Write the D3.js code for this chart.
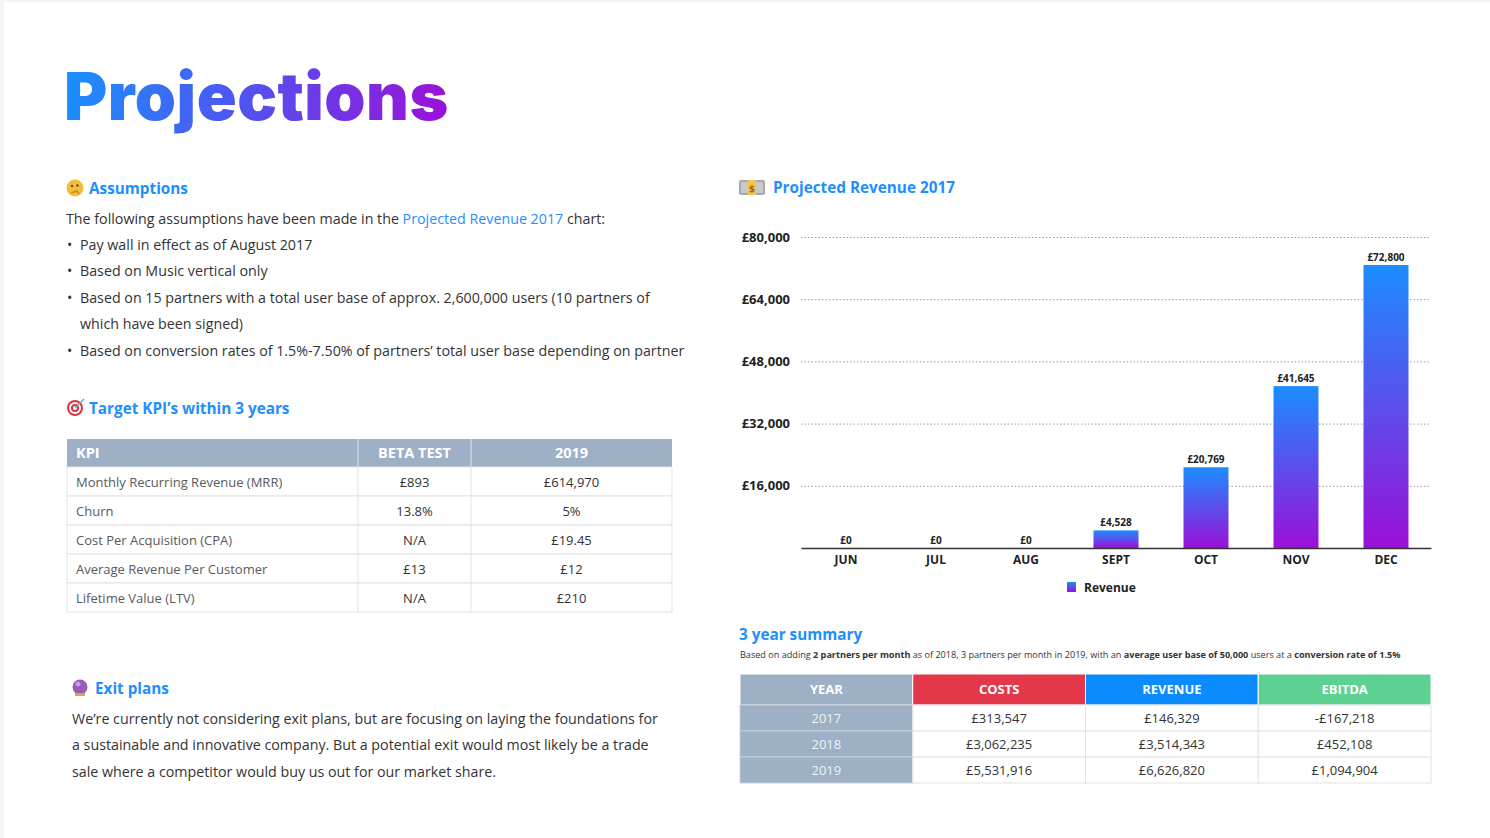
<!DOCTYPE html>
<html>
<head>
<meta charset="utf-8">
<script src="https://cdn.jsdelivr.net/npm/d3@7"></script>
<style>
  html, body { margin: 0; padding: 0; background: #f4f4f4; }
  svg { display: block; }
  .body-text { font-family: "Open Sans", sans-serif; font-size: 14.25px; fill: #333; }
  .heading { font-family: "Open Sans", sans-serif; font-size: 15.3px; font-weight: 700; fill: #1e8fff; }
</style>
</head>
<body>
<svg id="page" width="1490" height="838"></svg>
<script>
// chart data
var months = ["JUN", "JUL", "AUG", "SEPT", "OCT", "NOV", "DEC"];
var revenue = [0, 0, 0, 4528, 20769, 41645, 72800];
var yTicks = [16000, 32000, 48000, 64000, 80000];

// KPI table
var kpiHeaders = ["KPI", "BETA TEST", "2019"];
var kpiNames = ["Monthly Recurring Revenue (MRR)", "Churn", "Cost Per Acquisition (CPA)", "Average Revenue Per Customer", "Lifetime Value (LTV)"];
var kpiBeta = ["£893", "13.8%", "N/A", "£13", "N/A"];
var kpi2019 = ["£614,970", "5%", "£19.45", "£12", "£210"];

// summary table
var summaryHeaders = ["YEAR", "COSTS", "REVENUE", "EBITDA"];
var summaryYears = ["2017", "2018", "2019"];
var summaryCosts = ["£313,547", "£3,062,235", "£5,531,916"];
var summaryRevenue = ["£146,329", "£3,514,343", "£6,626,820"];
var summaryEbitda = ["-£167,218", "£452,108", "£1,094,904"];

// text blocks
var assumptionBullets = [
  ["Pay wall in effect as of August 2017"],
  ["Based on Music vertical only"],
  ["Based on 15 partners with a total user base of approx. 2,600,000 users (10 partners of", "which have been signed)"],
  ["Based on conversion rates of 1.5%-7.50% of partners\u2019 total user base depending on partner"]
];
var exitLines = [
  "We\u2019re currently not considering exit plans, but are focusing on laying the foundations for",
  "a sustainable and innovative company. But a potential exit would most likely be a trade",
  "sale where a competitor would buy us out for our market share."
];
var summaryNote = [
  ["Based on adding ", false], ["2 partners per month", true], [" as of 2018, 3 partners per month in 2019, with an ", false],
  ["average user base of 50,000", true], [" users at a ", false], ["conversion rate of 1.5%", true]
];

var svg = d3.select("#page");
svg.append("rect").attr("x", 4).attr("y", 2).attr("width", 1486).attr("height", 836).attr("fill", "#fff");

var defs = svg.append("defs");
var tg = defs.append("linearGradient").attr("id", "titleGrad")
    .attr("gradientUnits", "userSpaceOnUse")
    .attr("x1", 66).attr("y1", 70).attr("x2", 447).attr("y2", 130);
tg.append("stop").attr("offset", 0).attr("stop-color", "#1a90ff");
tg.append("stop").attr("offset", 0.45).attr("stop-color", "#4f55f2");
tg.append("stop").attr("offset", 1).attr("stop-color", "#9c0fd6");

var bg = defs.append("linearGradient").attr("id", "barGrad")
    .attr("x1", 0).attr("y1", 0).attr("x2", 0).attr("y2", 1);
bg.append("stop").attr("offset", 0).attr("stop-color", "#1c8dff");
bg.append("stop").attr("offset", 1).attr("stop-color", "#9b0fd7");

// title
svg.append("text")
    .attr("x", 64).attr("y", 120)
    .style("font-family", "Inter, Lato, sans-serif")
    .style("font-weight", 900)
    .style("font-size", "66px")
    .style("letter-spacing", "0.5px")
    .attr("fill", "url(#titleGrad)")
    .text("Projections");

function heading(x, y, txt) {
  svg.append("text").attr("class", "heading").attr("x", x).attr("y", y).text(txt);
}

// little emoji-ish icons
function iconThink(cx, cy) {
  var g = svg.append("g");
  g.append("circle").attr("cx", cx).attr("cy", cy).attr("r", 8.5).attr("fill", "#f2bd3a");
  g.append("circle").attr("cx", cx - 3).attr("cy", cy - 2).attr("r", 1.2).attr("fill", "#6b4a12");
  g.append("circle").attr("cx", cx + 2.5).attr("cy", cy - 2.5).attr("r", 1.2).attr("fill", "#6b4a12");
  g.append("path").attr("d", "M" + (cx - 4) + "," + (cy + 5) + " l6,-2 l2,3").attr("stroke", "#c98f1e").attr("stroke-width", 1.5).attr("fill", "none");
}
function iconMoney(x, y) {
  var g = svg.append("g");
  g.append("rect").attr("x", x).attr("y", y).attr("width", 26).attr("height", 15).attr("rx", 2).attr("fill", "#a9a9a9");
  g.append("rect").attr("x", x + 2).attr("y", y + 2).attr("width", 22).attr("height", 11).attr("fill", "#c9c9c9");
  g.append("rect").attr("x", x + 9).attr("y", y).attr("width", 8).attr("height", 15).attr("fill", "#f2c14e");
  g.append("text").attr("x", x + 13).attr("y", y + 11.5).attr("text-anchor", "middle")
    .style("font-family", "DejaVu Sans").style("font-size", "9px").style("font-weight", 700).attr("fill", "#9a6a10").text("$");
}
function iconTarget(cx, cy) {
  var g = svg.append("g");
  [8, 6, 4, 2].forEach(function(r, i) {
    g.append("circle").attr("cx", cx).attr("cy", cy).attr("r", r).attr("fill", i % 2 ? "#fff" : "#d8333f");
  });
  g.append("line").attr("x1", cx).attr("y1", cy).attr("x2", cx + 9).attr("y2", cy - 9).attr("stroke", "#6aa0c0").attr("stroke-width", 1.5);
}
function iconBall(cx, cy) {
  var g = svg.append("g");
  g.append("circle").attr("cx", cx).attr("cy", cy - 1).attr("r", 7.5).attr("fill", "#9a5bb8");
  g.append("circle").attr("cx", cx - 2).attr("cy", cy - 4).attr("r", 2.5).attr("fill", "#c99ae0");
  g.append("rect").attr("x", cx - 5).attr("y", cy + 5).attr("width", 10).attr("height", 3).attr("fill", "#e8a33a");
}

// ---- Assumptions ----
iconThink(75, 188);
heading(89, 194, "Assumptions");

var intro = svg.append("text").attr("class", "body-text").attr("x", 66).attr("y", 224);
intro.append("tspan").text("The following assumptions have been made in the ");
intro.append("tspan").attr("fill", "#1e8fff").text("Projected Revenue 2017");
intro.append("tspan").text(" chart:");

var lineY = 250;
assumptionBullets.forEach(function(lines) {
  svg.append("text").attr("class", "body-text").attr("x", 67).attr("y", lineY).text("\u2022");
  lines.forEach(function(l) {
    svg.append("text").attr("class", "body-text").attr("x", 80).attr("y", lineY).text(l);
    lineY += 26.4;
  });
});

// ---- KPI table ----
iconTarget(75, 408);
heading(89, 414, "Target KPI\u2019s within 3 years");

var kpiCols = [67, 358, 471, 672];
var kpiTop = 439, kpiHeadH = 28, kpiRowH = 29;
var kpi = svg.append("g").style("font-family", "Open Sans, sans-serif");
kpi.append("rect").attr("x", kpiCols[0]).attr("y", kpiTop).attr("width", kpiCols[3] - kpiCols[0]).attr("height", kpiHeadH).attr("fill", "#9db0c5");
kpi.selectAll("text.kh").data(kpiHeaders).enter().append("text")
    .attr("x", function(d, i) { return i === 0 ? kpiCols[0] + 9 : (kpiCols[i] + kpiCols[i + 1]) / 2; })
    .attr("y", kpiTop + 19)
    .attr("text-anchor", function(d, i) { return i === 0 ? "start" : "middle"; })
    .style("font-size", "14.5px").style("font-weight", 700).attr("fill", "#fff")
    .text(function(d) { return d; });

var kpiRows = kpiNames.map(function(n, i) { return [n, kpiBeta[i], kpi2019[i]]; });
var rowG = kpi.selectAll("g.krow").data(kpiRows).enter().append("g")
    .attr("transform", function(d, i) { return "translate(0," + (kpiTop + kpiHeadH + i * kpiRowH) + ")"; });
rowG.append("rect").attr("x", kpiCols[0]).attr("width", kpiCols[3] - kpiCols[0]).attr("height", kpiRowH)
    .attr("fill", "#fff").attr("stroke", "#e3e3e3");
rowG.selectAll("text").data(function(d) { return d; }).enter().append("text")
    .attr("x", function(d, i) { return i === 0 ? kpiCols[0] + 9 : (kpiCols[i] + kpiCols[i + 1]) / 2; })
    .attr("y", 20)
    .attr("text-anchor", function(d, i) { return i === 0 ? "start" : "middle"; })
    .style("font-size", "13px")
    .attr("fill", function(d, i) { return i === 0 ? "#5a5a5a" : "#333"; })
    .text(function(d) { return d; });
[kpiCols[1], kpiCols[2]].forEach(function(x) {
  kpi.append("line").attr("x1", x).attr("x2", x).attr("y1", kpiTop).attr("y2", kpiTop + kpiHeadH + kpiRows.length * kpiRowH)
    .attr("stroke", "#e3e3e3");
});

// ---- Exit plans ----
iconBall(80, 688);
heading(95, 694, "Exit plans");
exitLines.forEach(function(l, i) {
  svg.append("text").attr("class", "body-text").attr("x", 72).attr("y", 724 + i * 26.4).text(l);
});

// ---- Revenue chart ----
iconMoney(739, 180);
heading(773, 193, "Projected Revenue 2017");

var x = d3.scaleBand().domain(months).range([801, 1431]).paddingInner(0.5).paddingOuter(0.25);
var y = d3.scaleLinear().domain([0, 80000]).range([548, 237]);
var fmt = function(d) { return "£" + d3.format(",")(d); };

var yAxis = svg.append("g").attr("transform", "translate(801,0)")
    .call(d3.axisLeft(y).tickValues(yTicks).tickSize(-630).tickPadding(11).tickFormat(fmt));
yAxis.select(".domain").remove();
yAxis.selectAll(".tick line").attr("stroke", "#9a9a9a").attr("stroke-dasharray", "1.5,2");
yAxis.selectAll(".tick text").style("font-family", "Open Sans, sans-serif").style("font-size", "13px")
    .style("font-weight", 700).attr("fill", "#222");

svg.selectAll("rect.bar").data(revenue).enter().append("rect")
    .attr("class", "bar")
    .attr("x", function(d, i) { return x(months[i]); })
    .attr("width", x.bandwidth())
    .attr("y", function(d) { return y(d); })
    .attr("height", function(d) { return y(0) - y(d); })
    .attr("fill", "url(#barGrad)");

svg.selectAll("text.val").data(revenue).enter().append("text")
    .attr("x", function(d, i) { return x(months[i]) + x.bandwidth() / 2; })
    .attr("y", function(d) { return y(d) - 4; })
    .attr("text-anchor", "middle")
    .style("font-family", "Open Sans, sans-serif").style("font-size", "10px").style("font-weight", 700)
    .attr("fill", "#222")
    .text(fmt);

var xAxis = svg.append("g").attr("transform", "translate(0,548)")
    .call(d3.axisBottom(x).tickSize(0).tickPadding(7));
xAxis.select(".domain").attr("stroke", "#333").attr("stroke-width", 1.5);
xAxis.selectAll(".tick text").style("font-family", "Open Sans, sans-serif").style("font-size", "12px")
    .style("font-weight", 700).attr("fill", "#222");

// legend
var legend = svg.append("g").attr("transform", "translate(1067,582)");
legend.append("rect").attr("width", 9).attr("height", 10).attr("fill", "url(#barGrad)");
legend.append("text").attr("x", 17).attr("y", 9.5)
    .style("font-family", "Open Sans, sans-serif").style("font-size", "12px").style("font-weight", 700)
    .attr("fill", "#222").text("Revenue");

// ---- 3 year summary ----
heading(739, 640, "3 year summary");
var note = svg.append("text").attr("x", 740).attr("y", 658)
    .style("font-family", "Open Sans, sans-serif").style("font-size", "9.1px").attr("fill", "#333");
note.selectAll("tspan").data(summaryNote).enter().append("tspan")
    .style("font-weight", function(d) { return d[1] ? 700 : 400; })
    .text(function(d) { return d[0]; });

var sx = d3.scaleBand().domain(summaryHeaders).range([740, 1431]);
var headColors = ["#9db0c5", "#e5374a", "#0a8cff", "#5dd191"];
var sTop = 674, sHeadH = 31, sRowH = 26;
var sum = svg.append("g").style("font-family", "Open Sans, sans-serif");
sum.selectAll("rect.sh").data(summaryHeaders).enter().append("rect")
    .attr("x", function(d) { return sx(d); }).attr("y", sTop)
    .attr("width", sx.bandwidth()).attr("height", sHeadH)
    .attr("fill", function(d, i) { return headColors[i]; })
    .attr("stroke", "#fff").attr("stroke-width", 1);
sum.selectAll("text.sh").data(summaryHeaders).enter().append("text")
    .attr("x", function(d) { return sx(d) + sx.bandwidth() / 2; }).attr("y", sTop + 20)
    .attr("text-anchor", "middle")
    .style("font-size", "13px").style("font-weight", 700).attr("fill", "#fff")
    .text(function(d) { return d; });

var sRows = summaryYears.map(function(yr, i) { return [yr, summaryCosts[i], summaryRevenue[i], summaryEbitda[i]]; });
var sRowG = sum.selectAll("g.srow").data(sRows).enter().append("g")
    .attr("transform", function(d, i) { return "translate(0," + (sTop + sHeadH + i * sRowH) + ")"; });
sRowG.selectAll("rect").data(function(d) { return d; }).enter().append("rect")
    .attr("x", function(d, i) { return sx(summaryHeaders[i]); })
    .attr("width", sx.bandwidth()).attr("height", sRowH)
    .attr("fill", function(d, i) { return i === 0 ? "#9db0c5" : "#fff"; })
    .attr("stroke", function(d, i) { return i === 0 ? "#c5d0dc" : "#e3e3e3"; });
sRowG.selectAll("text").data(function(d) { return d; }).enter().append("text")
    .attr("x", function(d, i) { return sx(summaryHeaders[i]) + sx.bandwidth() / 2; })
    .attr("y", 18)
    .attr("text-anchor", "middle")
    .style("font-size", "13px")
    .attr("fill", function(d, i) { return i === 0 ? "#eef2f6" : "#333"; })
    .text(function(d) { return d; });
</script>
</body>
</html>
